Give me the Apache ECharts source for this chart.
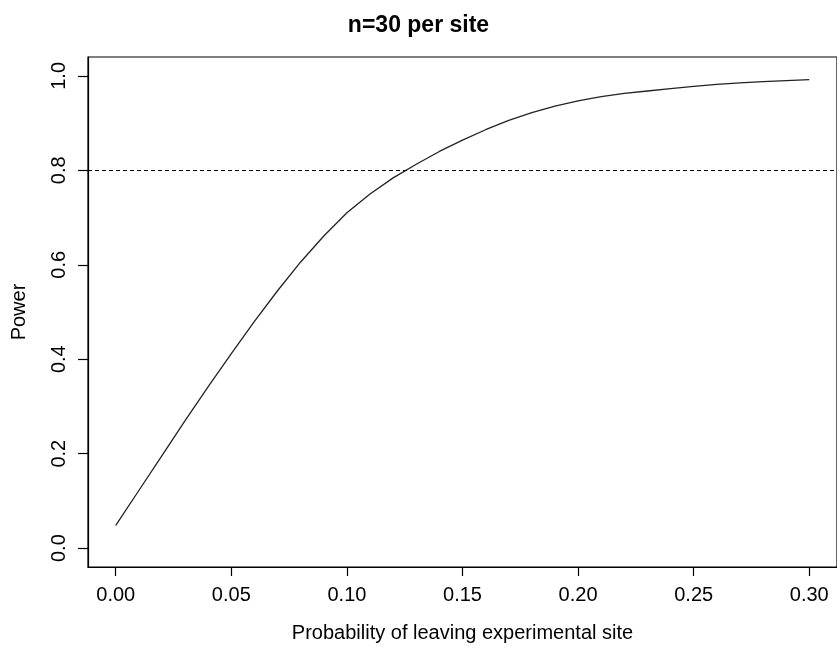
<!DOCTYPE html>
<html>
<head>
<meta charset="utf-8">
<script src="https://cdn.jsdelivr.net/npm/echarts@6/dist/echarts.min.js"></script>
<style>html,body{margin:0;padding:0;background:#fff}#c{width:837px;height:648px}</style>
</head>
<body>
<div id="c"></div>
<script>
const probLeave = [0.00,0.01,0.02,0.03,0.04,0.05,0.06,0.07,0.08,0.09,0.10,0.11,0.12,0.13,0.14,0.15,0.16,0.17,0.18,0.19,0.20,0.21,0.22,0.23,0.24,0.25,0.26,0.27,0.28,0.29,0.30];
const power = [0.048,0.122,0.196,0.270,0.342,0.412,0.480,0.545,0.606,0.661,0.710,0.750,0.784,0.813,0.840,0.864,0.886,0.906,0.922,0.936,0.947,0.956,0.963,0.968,0.973,0.978,0.982,0.985,0.988,0.990,0.992];
const xTicks = [0.00,0.05,0.10,0.15,0.20,0.25,0.30];
const yTicks = [0.0,0.2,0.4,0.6,0.8,1.0];
const refLine = 0.8;
const titleText = 'n=30 per site';
const xName = 'Probability of leaving experimental site';
const yName = 'Power';

const FONT = '"Liberation Sans", Arial, Helvetica, sans-serif';
const chart = echarts.init(document.getElementById('c'), null, {renderer: 'canvas'});
chart.setOption({
  animation: false,
  backgroundColor: '#fff',
  title: {
    text: titleText, left: 'center', top: 9,
    textStyle: {fontFamily: FONT, fontSize: 23, fontWeight: 'bold', color: '#000'}
  },
  grid: {left: 88, top: 57, width: 751.5, height: 513.5, show: true, borderColor: '#000', borderWidth: 1.2, containLabel: false},
  xAxis: {
    type: 'value', min: -0.012, max: 0.312,
    name: xName, nameLocation: 'middle', nameGap: 56,
    nameTextStyle: {fontFamily: FONT, fontSize: 20, color: '#000'},
    axisLine: {show: true, onZero: false, lineStyle: {color: '#000', width: 1.2}},
    axisTick: {show: true, customValues: xTicks, length: 9, inside: false, lineStyle: {color: '#000', width: 1.2}},
    axisLabel: {customValues: xTicks, margin: 18, fontFamily: FONT, fontSize: 20, color: '#000', formatter: v => v.toFixed(2)},
    splitLine: {show: false}
  },
  yAxis: {
    type: 'value', min: -0.04, max: 1.04,
    name: yName, nameLocation: 'middle', nameGap: 59,
    nameTextStyle: {fontFamily: FONT, fontSize: 20, color: '#000'},
    axisLine: {show: true, onZero: false, lineStyle: {color: '#000', width: 1.2}},
    axisTick: {show: true, customValues: yTicks, length: 10, inside: false, lineStyle: {color: '#000', width: 1.2}},
    axisLabel: {customValues: yTicks, rotate: 90, margin: 19, fontFamily: FONT, fontSize: 20, color: '#000', formatter: v => v.toFixed(1)},
    splitLine: {show: false}
  },
  series: [{
    type: 'line',
    data: probLeave.map((x, i) => [x, power[i]]),
    showSymbol: false, smooth: false,
    lineStyle: {color: '#222', width: 1.3},
    markLine: {
      silent: true, symbol: ['none', 'none'], label: {show: false},
      lineStyle: {color: '#000', type: [4, 3], width: 1.2},
      data: [{yAxis: refLine}]
    }
  }]
});
</script>
</body>
</html>
